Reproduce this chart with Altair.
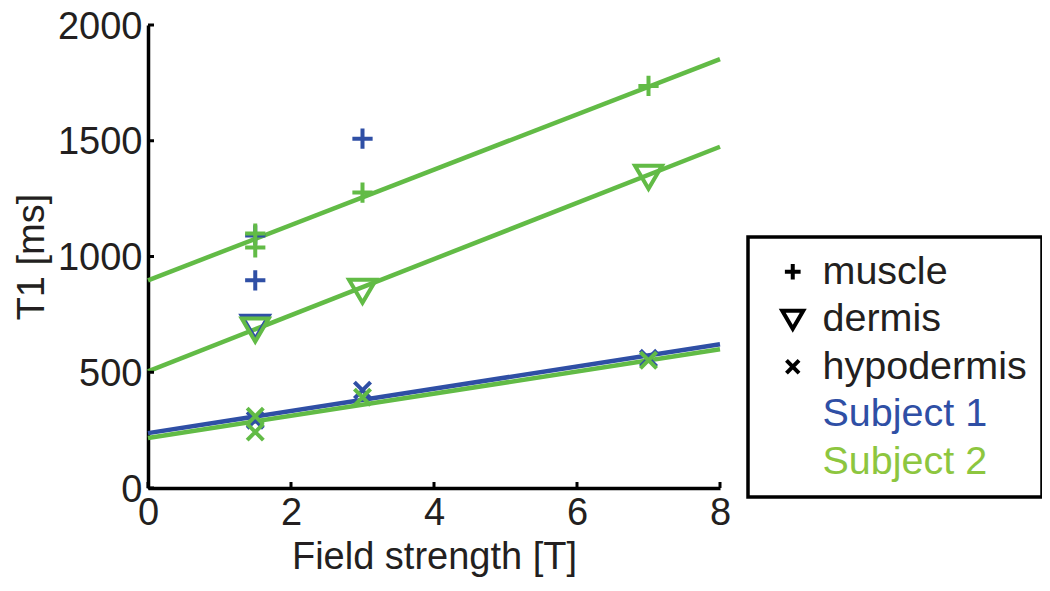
import altair as alt
import pandas as pd

# ---- measured points (Subject 1 first so Subject 2 is drawn on top) ----
s1_tissue = ["muscle", "muscle", "muscle", "dermis", "hypodermis", "hypodermis", "hypodermis"]
s1_field = [1.5, 1.5, 3, 1.5, 1.5, 3, 7]
s1_t1 = [1091, 897, 1509, 697, 293, 422, 560]

s2_tissue = ["muscle", "muscle", "muscle", "muscle", "dermis", "dermis", "dermis",
             "hypodermis", "hypodermis", "hypodermis", "hypodermis"]
s2_field = [1.5, 1.5, 3, 7, 1.5, 3, 7, 1.5, 1.5, 3, 7]
s2_t1 = [1099, 1039, 1276, 1737, 685, 853, 1345, 310, 242, 392, 552]

# ---- fitted lines (value at 0 T and at 8 T) ----
fit_subject = ["Subject 1", "Subject 2", "Subject 2", "Subject 2"]
fit_tissue = ["hypodermis", "muscle", "dermis", "hypodermis"]
fit_at_0 = [237, 897, 504, 216]
fit_at_8 = [621, 1853, 1474, 599]
fit_field = [0, 8]

x_ticks = [0, 2, 4, 6, 8]
y_ticks = [0, 500, 1000, 1500, 2000]

legend_items = ["muscle", "dermis", "hypodermis", "Subject 1", "Subject 2"]
subjects = ["Subject 1", "Subject 2"]

rows = []
for t, f, v in zip(s1_tissue, s1_field, s1_t1):
    rows.append({"subject": "Subject 1", "tissue": t, "field": f, "t1": v})
for t, f, v in zip(s2_tissue, s2_field, s2_t1):
    rows.append({"subject": "Subject 2", "tissue": t, "field": f, "t1": v})
pts = pd.DataFrame(rows)

lrows = []
for s, t, a, b in zip(fit_subject, fit_tissue, fit_at_0, fit_at_8):
    lrows.append({"subject": s, "tissue": t, "field": fit_field[0], "t1": a})
    lrows.append({"subject": s, "tissue": t, "field": fit_field[1], "t1": b})
lines_df = pd.DataFrame(lrows)

xtick_df = pd.DataFrame({"field": x_ticks})
ytick_df = pd.DataFrame({"t1": y_ticks})

FONT = "Liberation Sans"
INK = "#231f20"
BLUE = "#2f4fa5"
GREEN = "#62bb46"

xscale = alt.Scale(domain=[0, 8], nice=False, zero=False)
yscale = alt.Scale(domain=[0, 2000], nice=False)
cscale = alt.Scale(domain=subjects, range=[BLUE, GREEN])

shape_paths = [
    "M-0.75,0H0.75M0,-0.75V0.75",
    "M-1,-0.8L1,-0.8L0,0.9Z",
    "M-0.6,-0.6L0.6,0.6M-0.6,0.6L0.6,-0.6",
    "M0,0",
    "M0,0",
]

lines = alt.Chart(lines_df).mark_line(strokeWidth=4.5).encode(
    x=alt.X("field:Q", scale=xscale,
            axis=alt.Axis(values=x_ticks, title="Field strength [T]", orient="bottom",
                          format="d", labelFlush=False,
                          tickSize=0, labelPadding=6, titlePadding=6)),
    y=alt.Y("t1:Q", scale=yscale,
            axis=alt.Axis(values=y_ticks, title="T1 [ms]", orient="left",
                          format="d", labelFlush=False, labelOffset=2,
                          tickSize=0, labelPadding=6, titlePadding=6)),
    color=alt.Color("subject:N", scale=cscale, legend=None),
    detail="tissue:N",
)

# inward tick marks
xticks_in = alt.Chart(xtick_df).mark_rule(color="black", strokeWidth=3).encode(
    x=alt.X("field:Q", scale=xscale),
    y=alt.value(463), y2=alt.value(457),
)
yticks_in = alt.Chart(ytick_df).mark_rule(color="black", strokeWidth=3).encode(
    y=alt.Y("t1:Q", scale=yscale),
    x=alt.value(0), x2=alt.value(6),
)

points = alt.Chart(pts).mark_point(filled=False, strokeWidth=4, size=729, opacity=1).encode(
    x=alt.X("field:Q", scale=xscale),
    y=alt.Y("t1:Q", scale=yscale),
    color=alt.Color("subject:N", scale=cscale, legend=None),
    shape=alt.Shape("tissue:N", scale=alt.Scale(domain=legend_items, range=shape_paths),
                    legend=alt.Legend(
                        title=None, orient="none", legendX=600, legendY=212,
                        direction="vertical", padding=15,
                        strokeColor="black", fillColor="white",
                        labelFont=FONT, labelFontSize=39.5, labelLimit=400,
                        labelColor={"expr": "datum.label == 'Subject 1' ? '%s' : (datum.label == 'Subject 2' ? '#8dc63f' : '%s')" % (BLUE, INK)},
                        symbolSize=440, symbolStrokeWidth=4,
                        symbolStrokeColor="black", symbolFillColor="transparent",
                        symbolOffset=10, labelOffset=10, rowPadding=6.5,
                    )),
)

chart = alt.layer(lines, xticks_in, yticks_in, points).properties(
    width=572, height=463,
    autosize=alt.AutoSizeParams(type="none"),
    padding={"left": 140, "top": 17, "right": 322, "bottom": 90},
).configure_view(stroke=None).configure_axis(
    labelFont=FONT, labelFontSize=38, labelColor=INK,
    titleFont=FONT, titleFontSize=38, titleFontWeight="normal", titleColor=INK,
    domainColor="black", domainWidth=3.5, tickColor="black", tickWidth=3,
    grid=False,
).configure_legend(strokeWidth=3.5)

chart.save("out.html", embed_options={"renderer": "svg", "actions": False})
